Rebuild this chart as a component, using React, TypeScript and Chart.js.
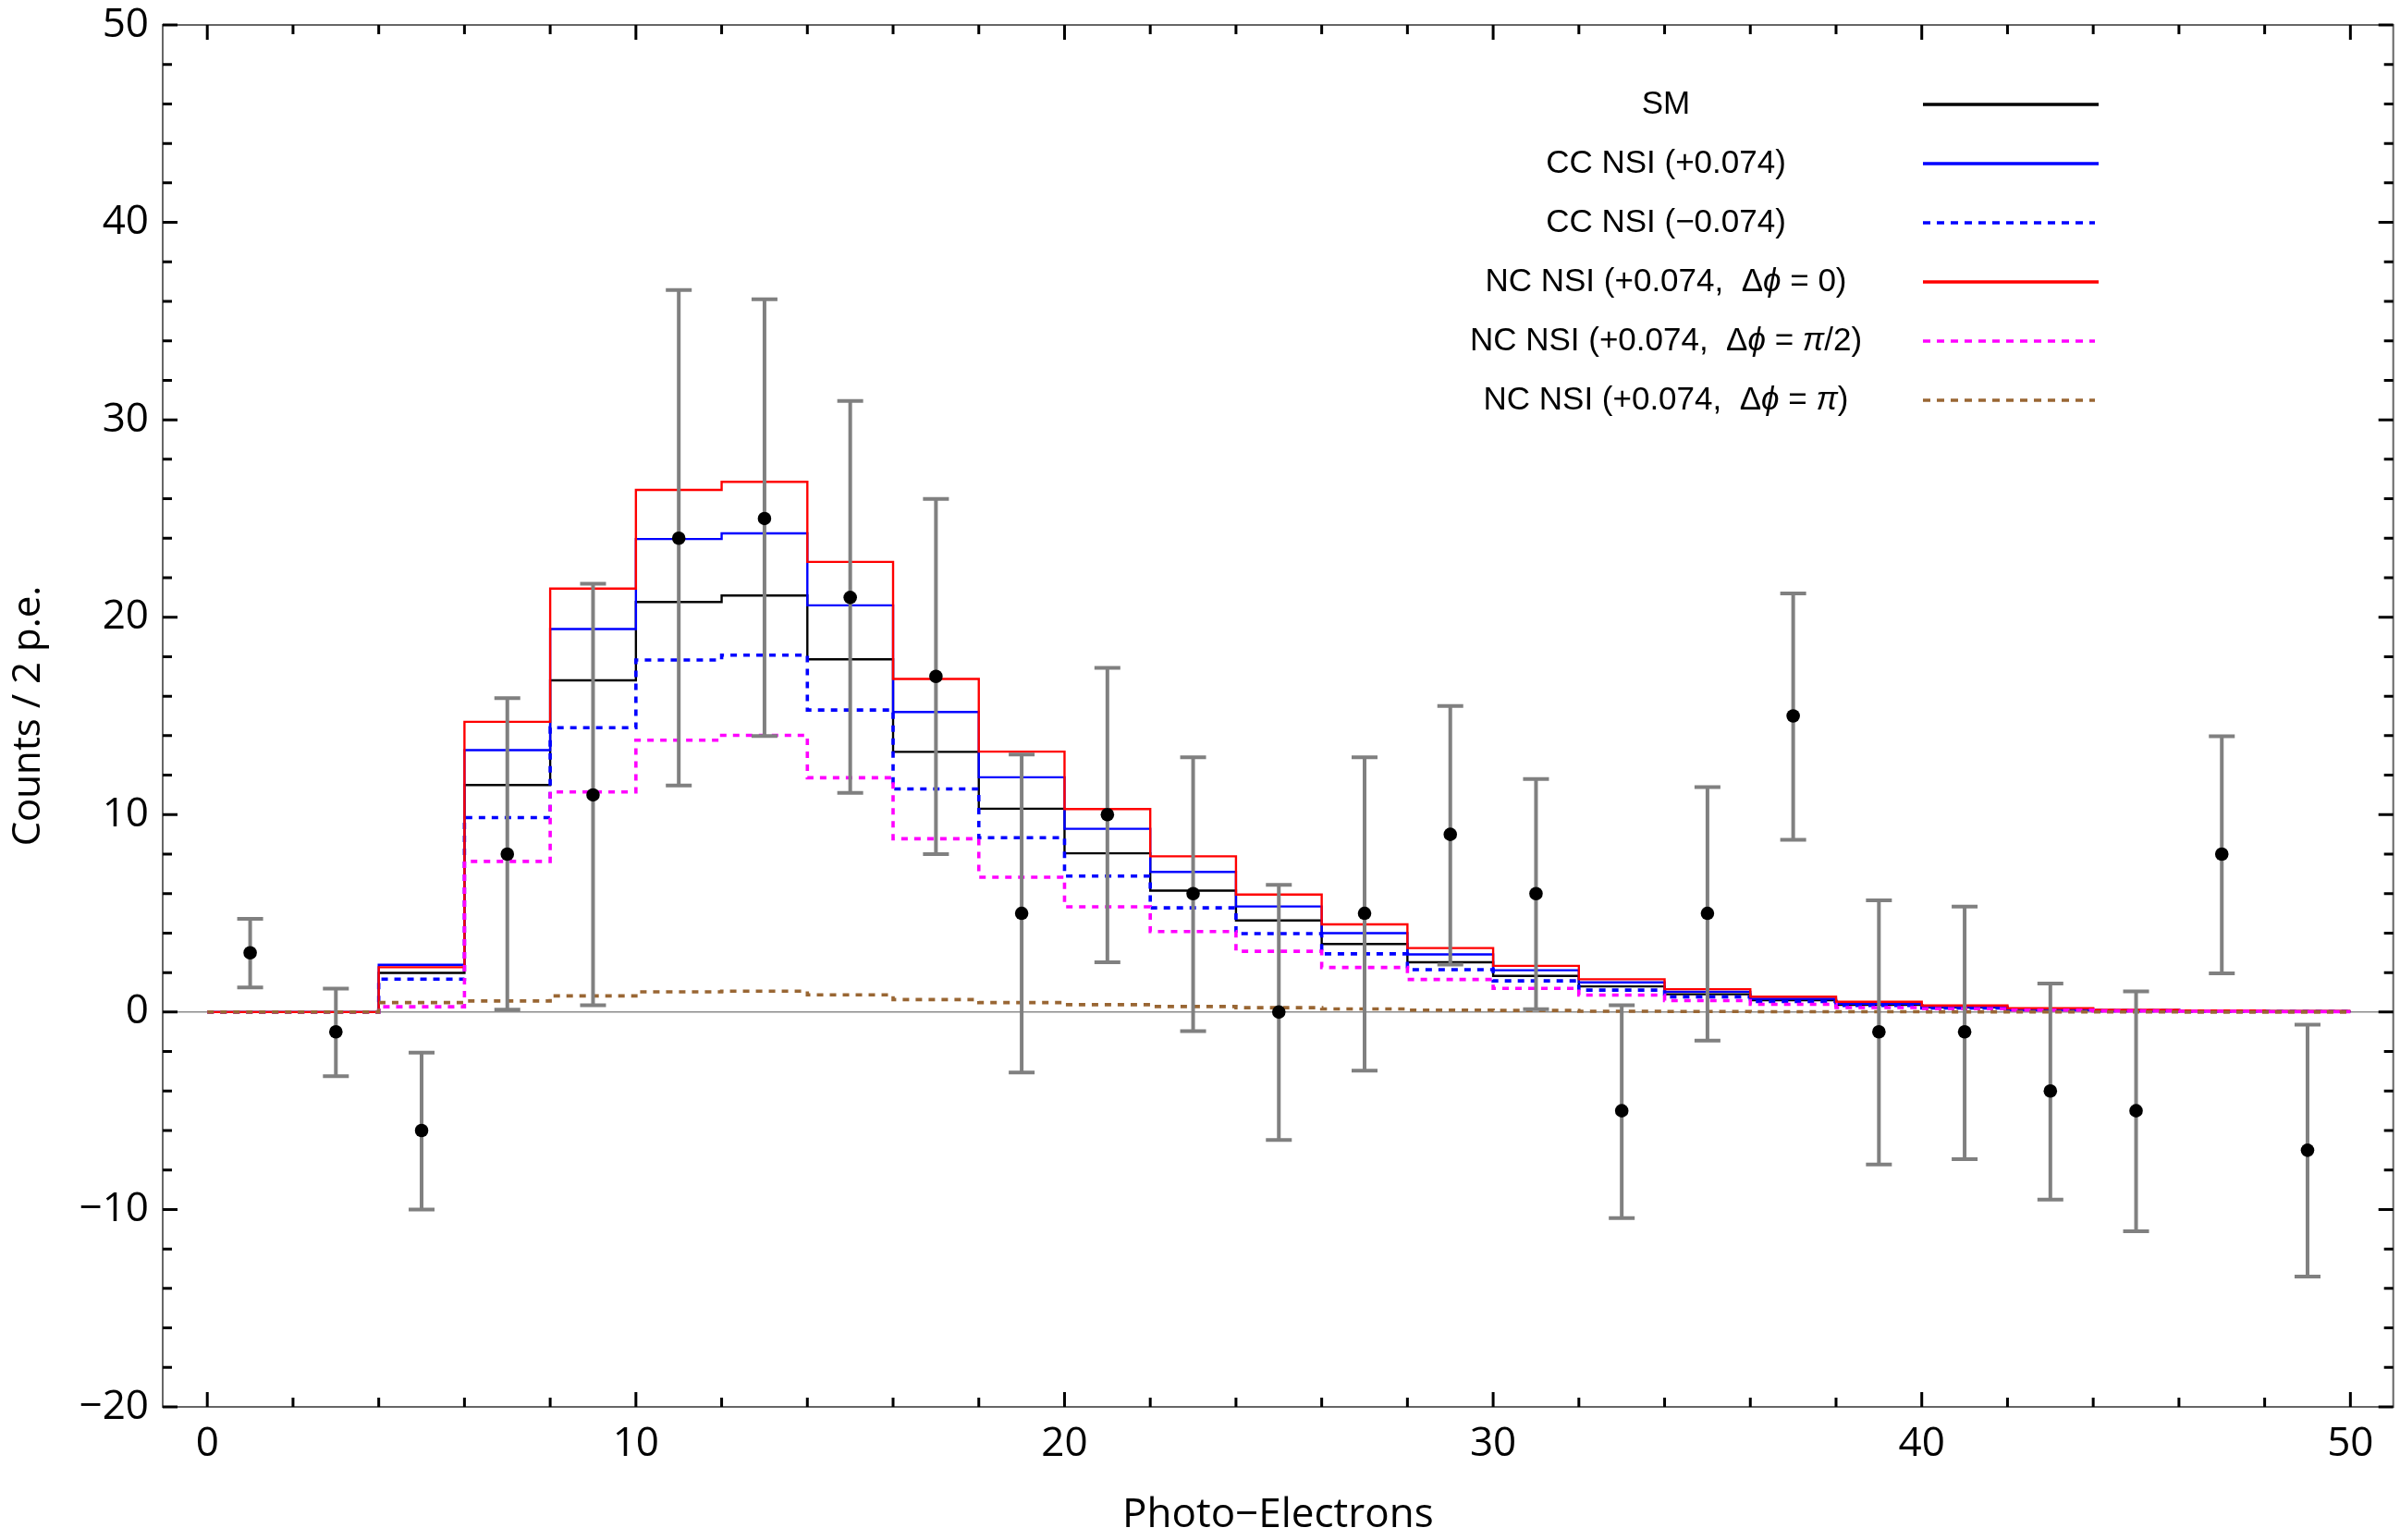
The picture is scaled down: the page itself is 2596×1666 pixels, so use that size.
import React, { useEffect, useRef } from 'react';
import { Chart, registerables } from 'chart.js';

Chart.register(...registerables);

// lower edges of the 2 p.e. bins, the last bin closes at 50
const binEdges = [0, 2, 4, 6, 8, 10, 12, 14, 16, 18, 20, 22, 24, 26, 28, 30, 32, 34, 36, 38, 40, 42, 44, 46, 48];
const histEnd = 50;

const smCounts = [0, 0, 1.98, 11.5, 16.8, 20.77, 21.1, 17.87, 13.18, 10.3, 8.04, 6.15, 4.64, 3.45, 2.52, 1.83, 1.3, 0.9, 0.6, 0.37, 0.24, 0.14, 0.08, 0.05, 0.03];
const ccPlusCounts = [0, 0, 2.39, 13.27, 19.4, 23.96, 24.25, 20.6, 15.2, 11.89, 9.28, 7.1, 5.35, 4.0, 2.92, 2.12, 1.5, 1.03, 0.67, 0.42, 0.27, 0.16, 0.09, 0.06, 0.04];
const ccMinusCounts = [0, 0, 1.67, 9.85, 14.4, 17.83, 18.08, 15.3, 11.3, 8.83, 6.89, 5.28, 3.97, 2.95, 2.15, 1.58, 1.11, 0.77, 0.53, 0.33, 0.21, 0.12, 0.07, 0.04, 0.03];
const ncZeroCounts = [0, 0, 2.27, 14.7, 21.45, 26.45, 26.86, 22.8, 16.87, 13.19, 10.28, 7.89, 5.95, 4.44, 3.24, 2.34, 1.66, 1.16, 0.78, 0.52, 0.33, 0.19, 0.11, 0.08, 0.05];
const ncHalfPiCounts = [0, 0, 0.27, 7.63, 11.15, 13.77, 14.02, 11.87, 8.78, 6.83, 5.33, 4.08, 3.08, 2.26, 1.65, 1.2, 0.86, 0.58, 0.39, 0.23, 0.17, 0.1, 0.06, 0.04, 0.02];
const ncPiCounts = [0, 0, 0.48, 0.56, 0.82, 1.02, 1.06, 0.87, 0.63, 0.48, 0.375, 0.28, 0.22, 0.16, 0.1, 0.08, 0.04, 0.03, 0.02, 0.015, 0.01, 0.01, 0.005, 0, 0];

// measured points with asymmetric error bars
const dataCenters = [1, 3, 5, 7, 9, 11, 13, 15, 17, 19, 21, 23, 25, 27, 29, 31, 33, 35, 37, 39, 41, 43, 45, 47, 49];
const dataCounts = [3, -1, -6, 8, 11, 24, 25, 21, 17, 5, 10, 6, 0, 5, 9, 6, -5, 5, 15, -1, -1, -4, -5, 8, -7];
const dataErrHigh = [4.72, 1.19, -2.05, 15.9, 21.7, 36.57, 36.1, 30.95, 25.99, 13.05, 17.44, 12.9, 6.44, 12.9, 15.5, 11.8, 0.34, 11.4, 21.2, 5.66, 5.34, 1.45, 1.05, 13.97, -0.64];
const dataErrLow = [1.25, -3.25, -10.0, 0.12, 0.35, 11.48, 13.98, 11.1, 8.0, -3.06, 2.52, -0.97, -6.48, -2.97, 2.4, 0.15, -10.44, -1.45, 8.73, -7.72, -7.45, -9.5, -11.1, 1.96, -13.4];

const xTickValues = [0, 10, 20, 30, 40, 50];
const yTickValues = [-20, -10, 0, 10, 20, 30, 40, 50];

const seriesLabels = [
  'SM',
  'CC NSI (+0.074)',
  'CC NSI (\u22120.074)',
  'NC NSI (+0.074,  \u0394\u03d5 = 0)',
  'NC NSI (+0.074,  \u0394\u03d5 = \u03c0/2)',
  'NC NSI (+0.074,  \u0394\u03d5 = \u03c0)',
];

const TICK_FONT = "'Open Sans', 'DejaVu Sans', sans-serif";
const LEGEND_FONT = "'Liberation Sans', Arial, sans-serif";
const DASH = [7, 7];

function stepData(values: number[]) {
  const pts = binEdges.map((x, i) => ({ x, y: values[i] }));
  pts.push({ x: histEnd, y: values[values.length - 1] });
  return pts;
}

function minusLabel(v: number) {
  return v < 0 ? '\u2212' + Math.abs(v) : String(v);
}

// draws a legend label with ϕ and π set in italics, centred on cx
function drawRich(ctx: CanvasRenderingContext2D, text: string, cx: number, cy: number) {
  const upright = `35px ${LEGEND_FONT}`;
  const italic = `italic 35px ${LEGEND_FONT}`;
  const parts = text.split(/([\u03d5\u03c0])/).filter((p) => p.length);
  const widths = parts.map((p) => {
    ctx.font = /[\u03d5\u03c0]/.test(p) ? italic : upright;
    return ctx.measureText(p).width;
  });
  let x = cx - widths.reduce((a, b) => a + b, 0) / 2;
  ctx.textAlign = 'left';
  ctx.textBaseline = 'middle';
  parts.forEach((p, i) => {
    ctx.font = /[\u03d5\u03c0]/.test(p) ? italic : upright;
    ctx.fillText(p, x, cy);
    x += widths[i];
  });
}

const plotDecor = {
  id: 'plotDecor',

  beforeDatasetsDraw(chart: any) {
    const { ctx, chartArea } = chart;
    const y0 = chart.scales.y.getPixelForValue(0);
    ctx.save();
    ctx.strokeStyle = '#8c8c8c';
    ctx.lineWidth = 1.5;
    ctx.beginPath();
    ctx.moveTo(chartArea.left, y0);
    ctx.lineTo(chartArea.right, y0);
    ctx.stroke();
    ctx.restore();
  },

  beforeDatasetDraw(chart: any, args: any) {
    if (args.index !== seriesLabels.length) return;
    const { ctx } = chart;
    const xs = chart.scales.x;
    const ys = chart.scales.y;
    ctx.save();
    ctx.strokeStyle = '#808080';
    ctx.lineWidth = 4;
    ctx.lineCap = 'butt';
    dataCenters.forEach((c, i) => {
      const px = xs.getPixelForValue(c);
      const top = ys.getPixelForValue(dataErrHigh[i]);
      const bot = ys.getPixelForValue(dataErrLow[i]);
      ctx.beginPath();
      ctx.moveTo(px, top);
      ctx.lineTo(px, bot);
      ctx.moveTo(px - 14, top);
      ctx.lineTo(px + 14, top);
      ctx.moveTo(px - 14, bot);
      ctx.lineTo(px + 14, bot);
      ctx.stroke();
    });
    ctx.restore();
  },

  afterDraw(chart: any) {
    const { ctx, chartArea } = chart;
    const { left, right, top, bottom } = chartArea;
    const xs = chart.scales.x;
    const ys = chart.scales.y;
    ctx.save();

    // frame
    ctx.strokeStyle = '#666666';
    ctx.lineWidth = 2;
    ctx.strokeRect(left, top, right - left, bottom - top);

    // inward ticks on all four sides
    ctx.strokeStyle = '#000000';
    ctx.lineWidth = 3;
    ctx.beginPath();
    for (let v = 0; v <= 50; v += 2) {
      const len = v % 10 === 0 ? 16 : 10;
      const px = xs.getPixelForValue(v);
      ctx.moveTo(px, bottom);
      ctx.lineTo(px, bottom - len);
      ctx.moveTo(px, top);
      ctx.lineTo(px, top + len);
    }
    for (let v = -20; v <= 50; v += 2) {
      const len = v % 10 === 0 ? 16 : 10;
      const py = ys.getPixelForValue(v);
      ctx.moveTo(left, py);
      ctx.lineTo(left + len, py);
      ctx.moveTo(right, py);
      ctx.lineTo(right - len, py);
    }
    ctx.stroke();

    // axis titles
    ctx.fillStyle = '#000000';
    ctx.font = `44px ${TICK_FONT}`;
    ctx.textAlign = 'center';
    ctx.textBaseline = 'alphabetic';
    ctx.fillText('Photo\u2212Electrons', (left + right) / 2, 1652);

    ctx.save();
    ctx.translate(31, (top + bottom) / 2);
    ctx.rotate(-Math.PI / 2);
    ctx.font = `42px ${TICK_FONT}`;
    ctx.textBaseline = 'middle';
    ctx.fillText('Counts / 2 p.e.', 0, 0);
    ctx.restore();

    // legend: label centred on the left, line sample on the right
    chart.data.datasets.slice(0, seriesLabels.length).forEach((ds: any, i: number) => {
      const cy = top + 86 + i * 64;
      ctx.fillStyle = '#000000';
      drawRich(ctx, ds.label, 1802, cy);
      ctx.strokeStyle = ds.borderColor;
      ctx.lineWidth = 3.4;
      ctx.setLineDash(ds.borderDash && ds.borderDash.length ? [8, 7] : []);
      ctx.beginPath();
      ctx.moveTo(2080, cy);
      ctx.lineTo(ds.borderDash && ds.borderDash.length ? 2266 : 2270, cy);
      ctx.stroke();
      ctx.setLineDash([]);
    });

    ctx.restore();
  },
};

function histSeries(label: string, values: number[], color: string, dashed: boolean, order: number) {
  return {
    type: 'line' as const,
    label,
    data: stepData(values),
    borderColor: color,
    borderWidth: dashed ? 3.6 : 2.4,
    borderDash: dashed ? DASH : [],
    stepped: 'before' as const,
    pointRadius: 0,
    fill: false,
    showLine: true,
    order,
  };
}

const App: React.FC = () => {
  const canvasRef = useRef<HTMLCanvasElement>(null);
  const chartRef = useRef<Chart | null>(null);

  useEffect(() => {
    if (!canvasRef.current) return;
    const ctx = canvasRef.current.getContext('2d');
    if (!ctx) return;

    if (chartRef.current) chartRef.current.destroy();

    chartRef.current = new Chart(ctx, {
      type: 'scatter',
      data: {
        datasets: [
          histSeries(seriesLabels[0], smCounts, '#000000', false, 6),
          histSeries(seriesLabels[1], ccPlusCounts, '#0000ff', false, 5),
          histSeries(seriesLabels[2], ccMinusCounts, '#0000ff', true, 4),
          histSeries(seriesLabels[3], ncZeroCounts, '#ff0000', false, 3),
          histSeries(seriesLabels[4], ncHalfPiCounts, '#ff00ff', true, 2),
          histSeries(seriesLabels[5], ncPiCounts, '#996633', true, 1),
          {
            type: 'scatter' as const,
            label: 'Data',
            data: dataCenters.map((x, i) => ({ x, y: dataCounts[i] })),
            pointRadius: 7.3,
            pointBackgroundColor: '#000000',
            pointBorderWidth: 0,
            showLine: false,
            order: 0,
          },
        ] as any,
      },
      options: {
        animation: false,
        responsive: true,
        maintainAspectRatio: false,
        layout: { padding: { top: 27, right: 3, left: 0, bottom: 0 } },
        plugins: {
          legend: { display: false },
          tooltip: { enabled: false },
        },
        scales: {
          x: {
            type: 'linear',
            min: -1.04,
            max: 51,
            grid: { display: false, drawTicks: false },
            border: { display: false },
            afterBuildTicks: (s: any) => {
              s.ticks = xTickValues.map((value) => ({ value }));
            },
            afterFit: (s: any) => {
              s.height = 144;
              s.paddingLeft = 0;
              s.paddingRight = 0;
            },
            ticks: {
              color: '#000000',
              padding: 14,
              maxRotation: 0,
              autoSkip: false,
              font: { family: TICK_FONT, size: 44 },
              callback: (v: any) => minusLabel(Number(v)),
            },
          },
          y: {
            type: 'linear',
            min: -20,
            max: 50,
            grid: { display: false, drawTicks: false },
            border: { display: false },
            afterBuildTicks: (s: any) => {
              s.ticks = yTickValues.map((value) => ({ value }));
            },
            afterFit: (s: any) => {
              s.width = 176;
              s.paddingTop = 0;
              s.paddingBottom = 0;
            },
            ticks: {
              color: '#000000',
              padding: 15,
              autoSkip: false,
              font: { family: TICK_FONT, size: 44 },
              callback: (v: any) => minusLabel(Number(v)),
            },
          },
        },
      },
      plugins: [plotDecor],
    });

    return () => chartRef.current?.destroy();
  }, []);

  return (
    <div style={{ position: 'absolute', left: 0, top: 0, width: 2596, height: 1666, background: '#ffffff' }}>
      <canvas ref={canvasRef} style={{ width: '100%', height: '100%' }} />
    </div>
  );
};

export default App;
